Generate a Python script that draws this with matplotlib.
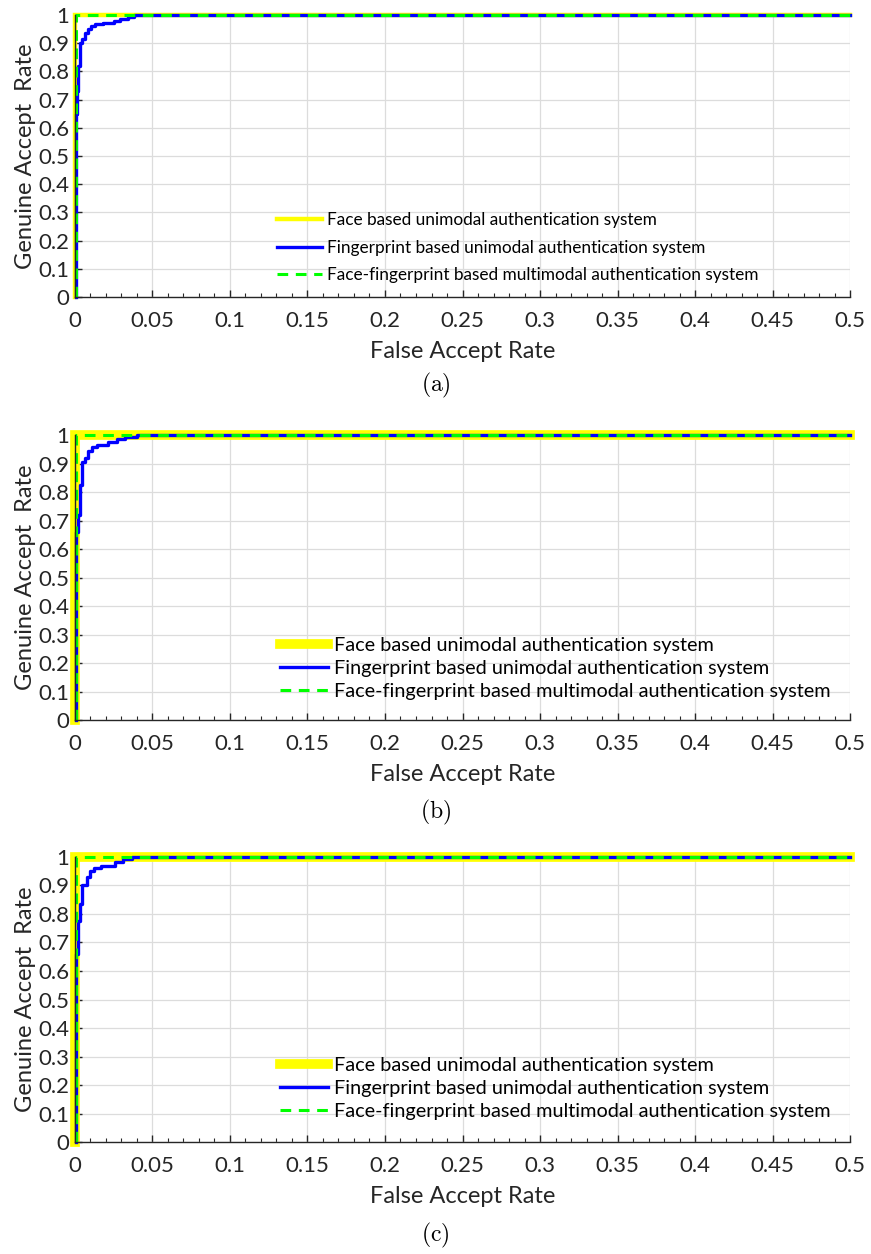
import numpy as np
import matplotlib.pyplot as plt
from matplotlib.ticker import MultipleLocator

plt.rcParams['font.family'] = ['Lato', 'DejaVu Sans']
plt.rcParams['mathtext.fontset'] = 'cm'

# ROC points (false accept rate, genuine accept rate) per experiment
face_far = [0.0, 0.0, 0.5]
face_gar = [0.0, 1.0, 1.0]

fused_far = [0.0008, 0.0008, 0.5]
fused_gar = [0.0, 1.0, 1.0]

finger_far_a = [0.0008, 0.0008, 0.0013, 0.0013, 0.002, 0.002, 0.003, 0.003, 0.0045, 0.0045,
                0.0065, 0.0065, 0.0085, 0.0085, 0.0105, 0.0105, 0.013, 0.013, 0.018, 0.018,
                0.025, 0.025, 0.029, 0.029, 0.034, 0.034, 0.038, 0.038, 0.5]
finger_gar_a = [0.0, 0.65, 0.65, 0.73, 0.73, 0.82, 0.82, 0.90, 0.90, 0.915,
                0.915, 0.935, 0.935, 0.95, 0.95, 0.96, 0.96, 0.968, 0.968, 0.973,
                0.973, 0.978, 0.978, 0.985, 0.985, 0.992, 0.992, 1.0, 1.0]

finger_far_b = [0.0008, 0.0008, 0.0017, 0.0017, 0.003, 0.003, 0.0043, 0.0043, 0.0065, 0.0065,
                0.0085, 0.0085, 0.011, 0.011, 0.014, 0.014, 0.021, 0.021, 0.027, 0.027,
                0.032, 0.032, 0.04, 0.04, 0.5]
finger_gar_b = [0.0, 0.66, 0.66, 0.72, 0.72, 0.825, 0.825, 0.905, 0.905, 0.92,
                0.92, 0.945, 0.945, 0.958, 0.958, 0.966, 0.966, 0.976, 0.976, 0.985,
                0.985, 0.994, 0.994, 1.0, 1.0]

finger_far_c = [0.0008, 0.0008, 0.002, 0.002, 0.003, 0.003, 0.0043, 0.0043, 0.0075, 0.0075,
                0.0095, 0.0095, 0.0125, 0.0125, 0.017, 0.017, 0.026, 0.026, 0.031, 0.031,
                0.037, 0.037, 0.5]
finger_gar_c = [0.0, 0.66, 0.66, 0.775, 0.775, 0.835, 0.835, 0.90, 0.90, 0.93,
                0.93, 0.95, 0.95, 0.962, 0.962, 0.968, 0.968, 0.984, 0.984, 0.994,
                0.994, 1.0, 1.0]

finger_far = [finger_far_a, finger_far_b, finger_far_c]
finger_gar = [finger_gar_a, finger_gar_b, finger_gar_c]
face_width = [3.2, 7.0, 7.0]
captions = ['(a)', '(b)', '(c)']

legend_labels = ['Face based unimodal authentication system',
                 'Fingerprint based unimodal authentication system',
                 'Face-fingerprint based multimodal authentication system']

x_ticks = np.arange(0, 0.501, 0.05)
x_ticklabels = ['0', '0.05', '0.1', '0.15', '0.2', '0.25', '0.3', '0.35', '0.4', '0.45', '0.5']
y_ticks = np.arange(0, 1.001, 0.1)
y_ticklabels = ['0', '0.1', '0.2', '0.3', '0.4', '0.5', '0.6', '0.7', '0.8', '0.9', '1']

fig = plt.figure(figsize=(8.71, 12.54), dpi=100)
ax_rects = [[0.0861, 0.7632, 0.8898, 0.2249],
            [0.0861, 0.4258, 0.8898, 0.2273],
            [0.0861, 0.0893, 0.8898, 0.2273]]
cap_y = [1 - 385 / 1254, 1 - 812 / 1254, 1 - 1235 / 1254]
leg_anchor = [(0.252, 0.325), (0.254, 0.318), (0.254, 0.325)]
leg_size = [12.4, 14.3, 14.3]
leg_space = [0.66, 0.29, 0.3]
leg_handle = [2.6, 2.45, 2.45]

for i in range(3):
    ax = fig.add_axes(ax_rects[i])
    ax.plot(face_far, face_gar, color='#FFFF00', lw=face_width[i], clip_on=False,
            solid_joinstyle='miter', label=legend_labels[0])
    ax.plot(finger_far[i], finger_gar[i], color='#0000FF', lw=2.4, clip_on=False,
            label=legend_labels[1])
    ax.plot(fused_far, fused_gar, color='#00FF00', lw=2.2, ls=(0, (3.5, 2.5)),
            clip_on=False, label=legend_labels[2])

    ax.set_xlim(0, 0.5)
    ax.set_ylim(0, 1)
    ax.set_xticks(x_ticks)
    ax.set_xticklabels(x_ticklabels)
    ax.set_yticks(y_ticks)
    ax.set_yticklabels(y_ticklabels)
    ax.xaxis.set_minor_locator(MultipleLocator(0.01))
    ax.tick_params(which='both', direction='in', labelsize=16, colors='#262626',
                   labelcolor='#262626')
    ax.tick_params(which='major', length=5, width=1)
    ax.tick_params(axis='x', which='major', pad=10)
    ax.tick_params(axis='y', which='major', pad=4)
    ax.tick_params(which='minor', length=3, width=0.8)
    ax.grid(True, which='major', color='#DCDCDC', lw=0.9)
    ax.set_axisbelow(True)
    for s in ['top', 'right']:
        ax.spines[s].set_visible(False)
    for s in ['left', 'bottom']:
        ax.spines[s].set_color('#262626')
        ax.spines[s].set_linewidth(1)

    ax.set_xlabel('False Accept Rate', fontsize=17, color='#262626', labelpad=7)
    ax.set_ylabel('Genuine Accept  Rate', fontsize=17, color='#262626', labelpad=2)

    ax.legend(loc='upper left', bbox_to_anchor=leg_anchor[i], frameon=False,
              fontsize=leg_size[i], handlelength=leg_handle[i], handletextpad=0.3,
              labelspacing=leg_space[i], borderaxespad=0)

    fig.text(0.5, cap_y[i], r'$\mathrm{' + captions[i] + '}$', ha='center', va='center',
             fontsize=17)

plt.savefig('out.png', dpi=100)
